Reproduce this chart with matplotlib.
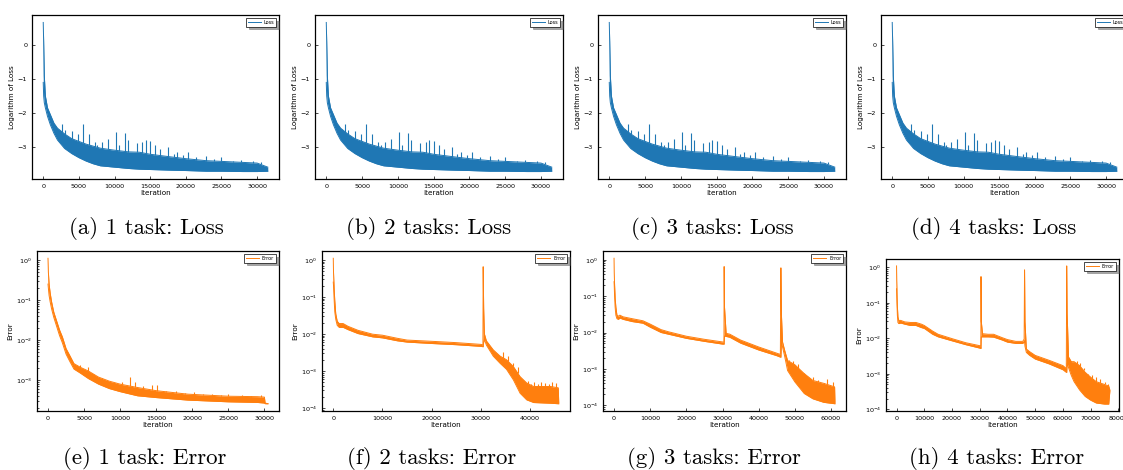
import matplotlib
matplotlib.use("Agg")
import matplotlib.pyplot as plt
import numpy as np

# ---------------- data ----------------
# Loss curve (log of loss), identical in panels (a)-(d): envelope + spikes
loss_x     = [0, 60, 150, 300, 600, 1000, 1500, 2000, 3000, 4000, 5000, 6000, 7000, 8000,
              10000, 12000, 13500, 15000, 18000, 20000, 22900, 25000, 28000, 30000, 31500]
loss_upper = [0.67, 0.1, -0.9, -1.5, -1.85, -2.05, -2.3, -2.45, -2.62, -2.76, -2.84, -2.92,
              -2.98, -3.04, -3.1, -3.15, -3.16, -3.22, -3.3, -3.35, -3.41, -3.43, -3.46, -3.48, -3.6]
loss_lower = [-1.1, -1.5, -1.7, -1.85, -2.1, -2.35, -2.6, -2.8, -3.05, -3.2, -3.32, -3.42,
              -3.5, -3.56, -3.6, -3.64, -3.66, -3.67, -3.69, -3.7, -3.72, -3.72, -3.73, -3.73, -3.72]
loss_spike_x = [2580, 3000, 3980, 4900, 5600, 6450, 7250, 7600, 8200, 9100, 10200, 10600, 11460,
                11900, 13100, 13900, 14400, 15000, 15700, 16400, 17500, 18300, 18800, 19600,
                20300, 21500, 22900, 24000, 25000, 26600, 27800, 29400, 30500]
loss_spike_y = [-2.34, -2.5, -2.52, -2.62, -2.34, -2.63, -2.86, -2.95, -2.86, -2.76, -2.57, -2.95,
                -2.6, -2.79, -2.9, -2.85, -2.81, -2.83, -2.94, -3.06, -3.0, -3.2, -3.16, -3.25,
                -3.16, -3.31, -3.26, -3.35, -3.29, -3.41, -3.4, -3.41, -3.45]

# Error (e) 1 task
e_x     = [0, 50, 150, 300, 500, 800, 1200, 1600, 2000, 2500, 3000, 3600, 4500, 5600, 7000,
           8500, 10000, 12400, 15000, 19400, 25000, 29000, 30000, 30100, 30500]
e_upper = [1.1, 0.5, 0.25, 0.15, 0.09, 0.05, 0.03, 0.018, 0.012, 0.0062, 0.0042, 0.0026, 0.0021,
           0.0017, 0.0012, 0.00095, 0.0008, 0.00066, 0.00055, 0.00045, 0.0004, 0.00039, 0.00038,
           0.00027, 0.00026]
e_lower = [0.25, 0.2, 0.13, 0.09, 0.06, 0.037, 0.022, 0.013, 0.0085, 0.0045, 0.003, 0.0019,
           0.0015, 0.0011, 0.0008, 0.00062, 0.00052, 0.00041, 0.00037, 0.00032, 0.00029, 0.00028,
           0.00027, 0.00026, 0.00026]
e_spike_x = [3830, 4400, 5580, 6280, 7500, 8350, 9300, 10200, 11300, 12100, 13200, 14400, 15100,
             16300, 17700, 19000, 20200, 21500, 22800, 24000, 25000, 26900, 28200, 29500]
e_spike_y = [0.0025, 0.0024, 0.0022, 0.0013, 0.0011, 0.00089, 0.0008, 0.0009, 0.0012, 0.0009,
             0.0007, 0.00077, 0.00078, 0.00053, 0.00054, 0.00048, 0.0005, 0.00046, 0.00045,
             0.00044, 0.00045, 0.00042, 0.0004, 0.00042]

# Error (f) 2 tasks
f_x     = [0, 50, 150, 300, 500, 800, 1200, 2000, 3000, 5000, 8000, 10000, 13000, 15000, 20000,
           25000, 30000, 30400, 30450, 30550, 30700, 31100, 32500, 33900, 35200, 36600, 37950,
           39300, 40700, 44100, 45700, 45800]
f_upper = [1.1, 0.45, 0.2, 0.08, 0.035, 0.022, 0.019, 0.019, 0.016, 0.0125, 0.0098, 0.0092,
           0.0076, 0.0068, 0.0063, 0.0058, 0.0052, 0.005, 0.65, 0.05, 0.01, 0.0065, 0.0037,
           0.0025, 0.002, 0.0013, 0.0007, 0.00047, 0.00038, 0.00038, 0.00035, 0.00014]
f_lower = [0.25, 0.2, 0.1, 0.04, 0.025, 0.017, 0.015, 0.015, 0.013, 0.0102, 0.0083, 0.0078,
           0.0065, 0.006, 0.0055, 0.0051, 0.0046, 0.0045, 0.0045, 0.006, 0.007, 0.005, 0.0025,
           0.0016, 0.0011, 0.00057, 0.00025, 0.000165, 0.00014, 0.000134, 0.00013, 0.00013]
f_spike_x = [34500, 35500, 36500, 37500, 38500, 39500, 40200, 40800, 41500, 42300, 43000, 43800,
             44500, 45200]
f_spike_y = [0.0032, 0.0025, 0.0016, 0.0013, 0.0006, 0.00055, 0.00045, 0.0005, 0.00045, 0.0005,
             0.00048, 0.00045, 0.0005, 0.00046]

# Error (g) 3 tasks
g_x     = [0, 50, 150, 300, 500, 800, 1200, 1600, 2500, 5000, 8000, 10000, 13000, 15000, 20000,
           25000, 30000, 30400, 30450, 30550, 31000, 32000, 35000, 40000, 45000, 46000, 46150,
           46300, 46600, 47200, 48000, 50000, 52600, 55000, 58000, 61000, 61100]
g_upper = [1.1, 0.45, 0.2, 0.09, 0.05, 0.03, 0.028, 0.03, 0.027, 0.024, 0.021, 0.017, 0.012,
           0.0105, 0.0079, 0.0065, 0.0055, 0.0054, 0.65, 0.05, 0.0095, 0.009, 0.0062, 0.004,
           0.0027, 0.0025, 0.6, 0.03, 0.0055, 0.0032, 0.0017, 0.0013, 0.00074, 0.00048, 0.0004,
           0.00032, 0.00012]
g_lower = [0.25, 0.2, 0.1, 0.05, 0.03, 0.024, 0.023, 0.025, 0.023, 0.02, 0.018, 0.014, 0.01,
           0.009, 0.0069, 0.0057, 0.0048, 0.0048, 0.0048, 0.008, 0.0078, 0.0074, 0.0051, 0.0033,
           0.0023, 0.0021, 0.0021, 0.006, 0.004, 0.0022, 0.0009, 0.00044, 0.00021, 0.00015,
           0.00012, 0.00011, 0.00011]
g_spike_x = [48500, 49500, 51000, 52500, 53500, 55000, 56500, 58000, 59000, 60500]
g_spike_y = [0.0017, 0.0016, 0.0014, 0.00066, 0.0006, 0.0006, 0.00049, 0.00039, 0.00054, 0.00044]

# Error (h) 4 tasks
h_x     = [0, 50, 150, 300, 500, 800, 1500, 3000, 5000, 7000, 9000, 10000, 13000, 15000, 20000,
           25000, 30000, 30400, 30450, 30550, 31000, 33000, 35000, 38000, 40000, 43000, 45500,
           46000, 46150, 46300, 46800, 48000, 50000, 55000, 60000, 61200, 61350, 61500, 62000,
           63000, 64000, 66000, 68000, 70000, 72000, 75000, 76500, 76900]
h_upper = [1.1, 0.45, 0.2, 0.08, 0.04, 0.032, 0.032, 0.029, 0.028, 0.028, 0.025, 0.023, 0.016,
           0.013, 0.0098, 0.0075, 0.0062, 0.006, 0.55, 0.03, 0.0135, 0.013, 0.013, 0.0105,
           0.0092, 0.0082, 0.0082, 0.0095, 0.85, 0.03, 0.005, 0.0042, 0.0033, 0.0024, 0.0017,
           0.0014, 1.1, 0.05, 0.003, 0.0022, 0.0022, 0.0017, 0.0011, 0.0008, 0.0006, 0.0005,
           0.00045, 0.00035]
h_lower = [0.25, 0.2, 0.1, 0.045, 0.028, 0.026, 0.027, 0.025, 0.023, 0.023, 0.02, 0.019, 0.013,
           0.011, 0.0085, 0.0066, 0.0053, 0.0052, 0.0052, 0.011, 0.011, 0.011, 0.0108, 0.009,
           0.0078, 0.0072, 0.0072, 0.008, 0.008, 0.006, 0.004, 0.0033, 0.0026, 0.0019, 0.0013,
           0.0011, 0.0011, 0.002, 0.0015, 0.0009, 0.0006, 0.00035, 0.00023, 0.00018, 0.00015,
           0.00014, 0.00014, 0.00033]
h_spike_x = [65000, 66000, 67500, 69000, 70500, 72000, 73500, 75000, 76200]
h_spike_y = [0.0023, 0.002, 0.0015, 0.001, 0.0009, 0.0008, 0.0007, 0.0006, 0.0005]

loss_captions = ["(a) 1 task: Loss", "(b) 2 tasks: Loss", "(c) 3 tasks: Loss", "(d) 4 tasks: Loss"]
error_captions = ["(e) 1 task: Error", "(f) 2 tasks: Error", "(g) 3 tasks: Error", "(h) 4 tasks: Error"]

error_sets = [
    (e_x, e_upper, e_lower, e_spike_x, e_spike_y),
    (f_x, f_upper, f_lower, f_spike_x, f_spike_y),
    (g_x, g_upper, g_lower, g_spike_x, g_spike_y),
    (h_x, h_upper, h_lower, h_spike_x, h_spike_y),
]

# ---------------- layout ----------------
W, H = 1123, 470
fig = plt.figure(figsize=(W / 100, H / 100), dpi=100)

def px_axes(left, right, top, bottom):
    return fig.add_axes([left / W, 1 - bottom / H, (right - left) / W, (bottom - top) / H])

top_boxes = [(32, 279, 15, 179), (315, 563, 15, 179), (598, 846, 15, 179), (881, 1128, 15, 179)]
bot_boxes = [(37, 279, 251, 411), (322, 570, 251, 411), (603, 846, 251, 411), (886, 1119, 259, 411)]
top_cap = [(146, 228), (429, 228), (712, 228), (994, 228)]
bot_cap = [(145, 459), (432, 459), (714, 459), (997, 459)]

BLUE = "#1f77b4"
ORANGE = "#ff7f0e"
TICK_FS = 4.6
LABEL_FS = 5.2
CAP_FS = 16.5

def style(ax):
    ax.tick_params(which="both", direction="in", labelsize=TICK_FS, width=0.5)
    ax.tick_params(which="major", length=2.5)
    ax.tick_params(which="minor", length=1.5)
    for s in ax.spines.values():
        s.set_linewidth(0.9)
        s.set_color("black")

def legend(ax):
    leg = ax.legend(loc="upper right", fontsize=3.6, frameon=True, fancybox=False, shadow=True,
                    handlelength=2.6, borderpad=0.35, handletextpad=0.6, borderaxespad=0.6)
    leg.get_frame().set_edgecolor("black")
    leg.get_frame().set_linewidth(0.5)

for i, box in enumerate(top_boxes):
    ax = px_axes(*box)
    ax.fill_between(loss_x, loss_lower, loss_upper, color=BLUE, linewidth=0)
    ax.plot(loss_x, loss_upper, color=BLUE, lw=0.7, label="Loss")
    ax.plot(loss_x, loss_lower, color=BLUE, lw=0.7)
    ax.vlines(loss_spike_x, np.interp(loss_spike_x, loss_x, loss_upper), loss_spike_y,
              color=BLUE, lw=0.8)
    ax.set_xlabel("Iteration", fontsize=LABEL_FS, labelpad=0.5)
    ax.set_ylabel("Logarithm of Loss", fontsize=LABEL_FS, labelpad=2)
    ax.set_xticks([0, 5000, 10000, 15000, 20000, 25000, 30000])
    ax.set_yticks([0, -1, -2, -3])
    ax.set_yticklabels(["0", "\u22121", "\u22122", "\u22123"])
    style(ax)
    legend(ax)
    fig.text(top_cap[i][0] / W, 1 - top_cap[i][1] / H, loss_captions[i], family="cmr10",
             fontsize=CAP_FS, ha="center", va="center")

for i, box in enumerate(bot_boxes):
    ax = px_axes(*box)
    x, up, lo, sx, sy = error_sets[i]
    ax.set_yscale("log")
    ax.fill_between(x, lo, up, color=ORANGE, linewidth=0)
    ax.plot(x, up, color=ORANGE, lw=0.7, label="Error")
    ax.plot(x, lo, color=ORANGE, lw=0.7)
    ax.vlines(sx, np.interp(sx, x, up), sy, color=ORANGE, lw=0.8)
    ax.set_xlabel("Iteration", fontsize=LABEL_FS, labelpad=0.5)
    ax.set_ylabel("Error", fontsize=LABEL_FS, labelpad=2)
    if i == 3:
        ax.set_xlim(-3800, 80200)
    style(ax)
    legend(ax)
    fig.text(bot_cap[i][0] / W, 1 - bot_cap[i][1] / H, error_captions[i], family="cmr10",
             fontsize=CAP_FS, ha="center", va="center")

fig.savefig("out.png", dpi=100)
